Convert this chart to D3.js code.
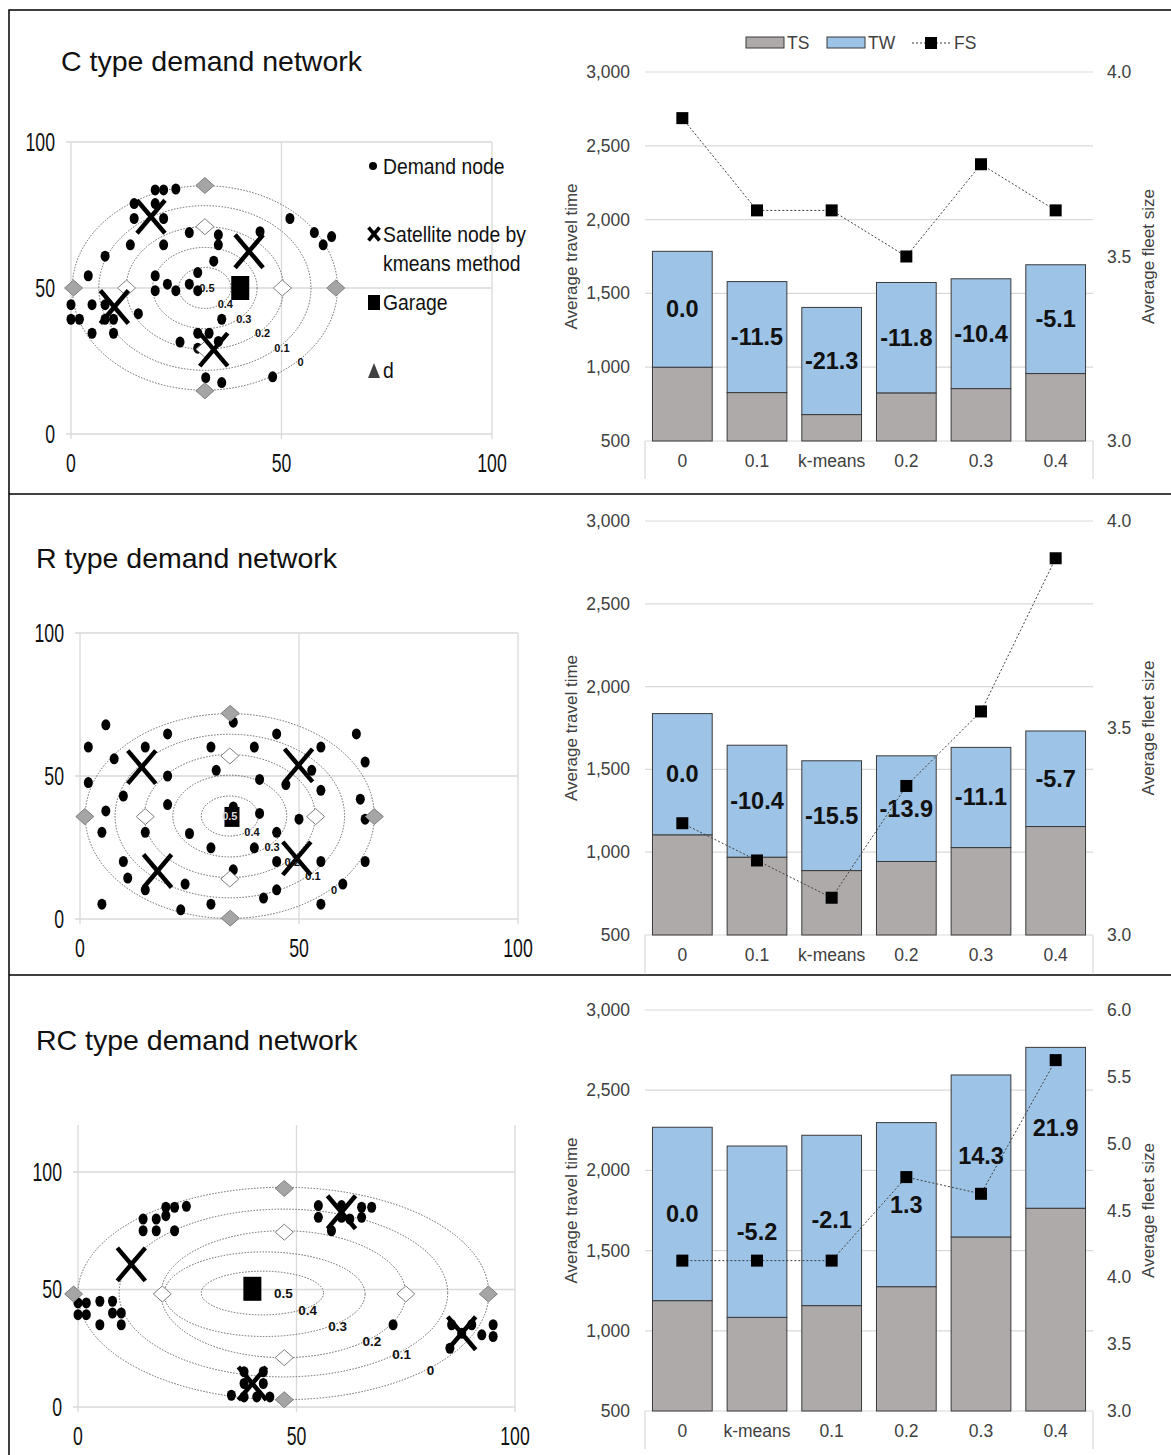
<!DOCTYPE html>
<html>
<head>
<meta charset="utf-8">
<title>Demand networks</title>
<script src="https://d3js.org/d3.v7.min.js"></script>
<style>
	body {margin:0; background:#fff;}
	text {font-family:"Liberation Sans", Arial, sans-serif;}
</style>
</head>
<body>
<div id="fig"></div>
<script>
// ---------- bar chart data ----------
var cCats = ["0","0.1","k-means","0.2","0.3","0.4"];
var cTS = [1000, 828, 679, 826, 855, 957];
var cTW = [785, 752, 726, 748, 744, 737];
var cFS = [3.875, 3.625, 3.625, 3.5, 3.75, 3.625];
var cPct = ["0.0","-11.5","-21.3","-11.8","-10.4","-5.1"];

var rCats = ["0","0.1","k-means","0.2","0.3","0.4"];
var rTS = [1105, 970, 889, 944, 1028, 1155];
var rTW = [732, 676, 663, 638, 605, 577];
var rFS = [3.27, 3.18, 3.09, 3.36, 3.54, 3.91];
var rPct = ["0.0","-10.4","-15.5","-13.9","-11.1","-5.7"];

var rcCats = ["0","k-means","0.1","0.2","0.3","0.4"];
var rcTS = [1188, 1084, 1157, 1275, 1585, 1764];
var rcTW = [1081, 1068, 1062, 1023, 1010, 1003];
var rcFS = [4.125, 4.125, 4.125, 4.75, 4.625, 5.625];
var rcPct = ["0.0","-5.2","-2.1","1.3","14.3","21.9"];

var travelTicks = [500, 1000, 1500, 2000, 2500, 3000];
var fleetTicksA = [3.0, 3.5, 4.0];
var fleetTicksB = [3.0, 3.5, 4.0, 4.5, 5.0, 5.5, 6.0];

// ---------- network data ----------
var gridTicks = [0, 50, 100];
var ringLevels = ["0","0.1","0.2","0.3","0.4"];

var cNodes = [[20,83.6],[22,83.6],[24.9,83.9],[15,78.9],[20,78.9],[15,73.8],[22,73.8],[14.1,64.8],[22,64.8],[8.1,60.9],
	[28.1,69],[35,68.2],[35,64.8],[33.9,59.2],[44.9,69.3],[52,73.8],[57.8,69],[59.9,64.8],[61.9,67.6],[4.1,54.2],
	[20,54.2],[20,49.1],[22.9,51.3],[24.9,49.1],[28.1,51.3],[30.1,55.3],[30.1,49.1],[0,44.3],[0,39.3],[2,39.3],
	[5,44.3],[8.1,44.3],[8.1,39.3],[10.1,39.3],[5,34.5],[10.1,34.5],[16,41.2],[35.8,39.3],[25.9,31.5],[30.1,34.5],
	[32.8,34.5],[30.1,29.4],[35,31.7],[32,19.3],[35.8,17.6],[47.9,19.6]];
var cSats = [[19,74.4],[42.3,62.6],[10.3,43.5],[33.9,28.9]];
var cGarage = [40.2, 50];
var cRings = [[31.8,50,31.5,35],[31.8,50,25.2,28.2],[31.8,50,18.7,21],[31.8,50,12.4,13.9],[31.8,50,6.2,7]];
var cGrey = [[0.6,50],[62.9,50],[31.8,85.1],[31.8,14.8]];
var cWhite = [[13.2,50],[50.2,50],[31.8,71],[31.8,29]];

var rNodes = [[5.9,67.9],[1.9,60.1],[1.9,47.7],[7.8,56],[14.9,60.1],[20,64.7],[20,50],[9.9,43],[5.9,37.8],[5,30.3],
	[14.9,30.3],[20,40],[9.9,20.1],[10.9,14.3],[14.9,10.2],[24,12.2],[5,5.2],[23,3.2],[29.9,5.2],[25,29.9],
	[29.9,24.9],[29.9,60.1],[31.1,52],[35,68.8],[35,39.2],[39.8,60.1],[41,48.8],[41,36.9],[39.8,24.9],[35,17.2],
	[44.9,64.7],[44.9,30.3],[44.9,20.1],[41.9,7.3],[44.9,10.2],[47,47],[50,34.9],[52.9,52],[55,60.1],[55,45],
	[55,20.1],[55,5.2],[63.1,64.7],[65.1,54.9],[64,41.9],[65.1,34.9],[65.1,20.1],[60,12.2]];
var rSats = [[14.1,53.1],[49.9,53.7],[17.7,16.8],[49.5,21.2]];
var rGarage = [34.7, 35.7];
var rRings = [[34.2,36,33,35.8],[34.2,36,26.2,28.6],[34.2,36,19.5,21.5],[34.2,36,13,14.3],[34.2,36,6.5,7]];
var rGrey = [[1.1,35.8],[67.2,35.8],[34.3,71.9],[34.3,0.3]];
var rWhite = [[14.9,35.8],[53.8,35.8],[34.2,57],[34.2,14]];

var rcNodes = [[14.9,80],[14.9,75],[17.9,80],[17.9,75],[20.1,81.4],[20.1,85],[22.1,85],[22.1,75],[24.8,85.4],
	[0,44.3],[0,39.3],[1.9,44.3],[1.9,39.3],[5,45],[5,35],[7.9,45],[7.9,40],[9.9,40],[9.9,35],
	[55,85.7],[55,80.7],[60.3,85.7],[60.3,80.7],[62.2,80],[64.9,85],[64.9,80.7],[67.2,85],[58,75],
	[38,15],[42.4,15],[38,10],[42.4,10],[35.1,5],[38,4.3],[40.9,4.3],[43.9,4.3],
	[72.1,35],[85.1,25],[85.5,35],[87.8,31.4],[90.1,35],[92.4,30.7],[95,35],[95,30]];
var rcSats = [[12.2,60.7],[60.3,82.9],[87.8,31.4],[39.9,10]];
var rcGarage = [39.9, 50.3];
var rcRings = [[47,48.3,47,45.2],[47,48.5,37.6,35.7],[47,48,28,27],[42.7,48,23,18],[42.2,48.5,14,9.3]];
var rcGrey = [[-1,48.1],[93.9,48.1],[47.2,93],[47.2,3.1]];
var rcWhite = [[19.3,48.1],[75,48.1],[47.2,74.4],[47.2,21]];

var svg = d3.select("#fig").append("svg")
	.attr("width", 1171)
	.attr("height", 1455);

// outer frame and dividers
svg.append("rect").attr("x",9).attr("y",10).attr("width",1175).attr("height",1460)
	.attr("fill","none").attr("stroke","#000").attr("stroke-width",1.5);
[494, 975].forEach(function(yy){
	svg.append("line").attr("x1",9).attr("x2",1171).attr("y1",yy).attr("y2",yy)
		.attr("stroke","#000").attr("stroke-width",1.5);
});

// narrow text (condensed look of the original)
function ntext(g, x, y, s, size, anchor, sx) {
	return g.append("text")
		.attr("transform","translate(" + x + "," + y + ") scale(" + sx + ",1)")
		.attr("text-anchor", anchor)
		.attr("dominant-baseline","central")
		.attr("font-size", size)
		.attr("fill","#111")
		.text(s);
}

function drawCross(g, cx, cy, w, h, sw) {
	g.append("line").attr("x1",cx-w/2).attr("y1",cy-h/2).attr("x2",cx+w/2).attr("y2",cy+h/2)
		.attr("stroke","#000").attr("stroke-width",sw);
	g.append("line").attr("x1",cx-w/2).attr("y1",cy+h/2).attr("x2",cx+w/2).attr("y2",cy-h/2)
		.attr("stroke","#000").attr("stroke-width",sw);
}

function drawNetwork(cfg) {
	var g = svg.append("g");
	var x = d3.scaleLinear().domain([0,100]).range(cfg.xr);
	var y = d3.scaleLinear().domain([0,100]).range(cfg.yr);

	g.append("text").attr("x",cfg.tx).attr("y",cfg.ty).attr("font-size",28.5)
		.attr("dominant-baseline","central").attr("fill","#111").text(cfg.title);

	// grid
	g.selectAll(".hg").data(gridTicks).join("line")
		.attr("x1", x(0)-5).attr("x2", x(100))
		.attr("y1", function(d){return y(d);}).attr("y2", function(d){return y(d);})
		.attr("stroke","#d9d9d9").attr("stroke-width",1.3);
	g.selectAll(".vg").data(gridTicks).join("line")
		.attr("x1", function(d){return x(d);}).attr("x2", function(d){return x(d);})
		.attr("y1", y(0)+5).attr("y2", y(cfg.yMax))
		.attr("stroke","#d9d9d9").attr("stroke-width",1.3);
	gridTicks.forEach(function(t){
		ntext(g, x(0)-16, y(t), t, 26, "end", 0.68);
		ntext(g, x(t), y(0)+29, t, 26, "middle", 0.68);
	});

	// rings
	g.selectAll(".ring").data(cfg.rings).join("ellipse")
		.attr("cx", function(d){return x(d[0]);})
		.attr("cy", function(d){return y(d[1]);})
		.attr("rx", function(d){return x(d[2]) - x(0);})
		.attr("ry", function(d){return y(0) - y(d[3]);})
		.attr("fill","none").attr("stroke","#666").attr("stroke-width",1)
		.attr("stroke-dasharray","1.5,1.5");

	// demand nodes
	g.selectAll(".node").data(cfg.nodes).join("ellipse")
		.attr("cx", function(d){return x(d[0]);})
		.attr("cy", function(d){return y(d[1]);})
		.attr("rx", 4.5).attr("ry", 5.5).attr("fill","#000");

	// d points (diamonds)
	function diamond(data, fill) {
		g.selectAll(null).data(data).join("path")
			.attr("d", function(d){
				var px = x(d[0]), py = y(d[1]);
				return "M" + (px-9) + "," + py + "L" + px + "," + (py-8) + "L" + (px+9) + "," + py + "L" + px + "," + (py+8) + "Z";
			})
			.attr("fill", fill).attr("stroke","#7f7f7f").attr("stroke-width",1);
	}
	diamond(cfg.grey, "#a5a5a5");
	diamond(cfg.white, "#fff");

	// satellites
	cfg.sats.forEach(function(s){ drawCross(g, x(s[0]), y(s[1]), 28, 33, 4.5); });

	// garage
	g.append("rect").attr("x", x(cfg.garage[0]) - cfg.gw/2).attr("y", y(cfg.garage[1]) - cfg.gh/2)
		.attr("width", cfg.gw).attr("height", cfg.gh).attr("fill","#000");

	// ring labels
	cfg.rings.forEach(function(r, i){
		g.append("text")
			.attr("x", x(r[0] + r[2]*0.707) + 2)
			.attr("y", y(r[1] - r[3]*0.707) + 2)
			.attr("text-anchor","middle").attr("dominant-baseline","central")
			.attr("font-size", cfg.lf).attr("font-weight","bold").attr("fill","#111")
			.text(ringLevels[i]);
	});
	var c0 = cfg.rings[0];
	g.append("text").attr("x", x(c0[0]) + cfg.l5dx).attr("y", y(c0[1]))
		.attr("text-anchor","middle").attr("dominant-baseline","central")
		.attr("font-size", cfg.lf).attr("font-weight","bold").attr("fill", cfg.l5fill)
		.text("0.5");
}

drawNetwork({title:"C type demand network", tx:61, ty:61, xr:[71,492], yr:[434,142], yMax:100,
	nodes:cNodes, sats:cSats, garage:cGarage, rings:cRings, grey:cGrey, white:cWhite,
	gw:18, gh:24, lf:11, l5dx:2, l5fill:"#111"});
drawNetwork({title:"R type demand network", tx:36, ty:558, xr:[80,518], yr:[919,633], yMax:100,
	nodes:rNodes, sats:rSats, garage:rGarage, rings:rRings, grey:rGrey, white:rWhite,
	gw:15, gh:20, lf:11, l5dx:0, l5fill:"#ddd"});
drawNetwork({title:"RC type demand network", tx:36, ty:1040, xr:[78,515], yr:[1407,1172], yMax:120,
	nodes:rcNodes, sats:rcSats, garage:rcGarage, rings:rcRings, grey:rcGrey, white:rcWhite,
	gw:18, gh:24, lf:13.5, l5dx:0, l5fill:"#111"});

// legend of the first network
(function(){
	var g = svg.append("g");
	g.append("circle").attr("cx",373).attr("cy",166).attr("r",4).attr("fill","#000");
	ntext(g, 383, 166, "Demand node", 21.5, "start", 0.9);
	drawCross(g, 374, 234, 11, 13, 3.5);
	ntext(g, 383, 234, "Satellite node by", 21.5, "start", 0.9);
	ntext(g, 383, 263, "kmeans method", 21.5, "start", 0.9);
	g.append("rect").attr("x",368).attr("y",295).attr("width",12).attr("height",15).attr("fill","#000");
	ntext(g, 383, 302, "Garage", 21.5, "start", 0.9);
	g.append("path").attr("d","M368,378L374,363L380,378Z").attr("fill","#404040");
	ntext(g, 383, 370, "d", 21.5, "start", 0.9);
})();

// ---------- bar + line charts ----------
var colTS = "#aeaaaa", colTW = "#9dc3e6";

function drawBars(cfg) {
	var g = svg.append("g");
	var x = d3.scaleBand().domain(cfg.cats).range([645,1093]).paddingInner(0.2).paddingOuter(0.1);
	var y = d3.scaleLinear().domain([500,3000]).range([cfg.bottom, cfg.top]);
	var yR = d3.scaleLinear().domain(cfg.fsDomain).range([cfg.bottom, cfg.top]);
	var bw = x.bandwidth();

	g.selectAll(".grid").data(travelTicks).join("line")
		.attr("x1",645).attr("x2",1093)
		.attr("y1", function(d){return y(d);}).attr("y2", function(d){return y(d);})
		.attr("stroke","#d9d9d9").attr("stroke-width",1.2);
	g.selectAll(".lt").data(travelTicks).join("text")
		.attr("x",630).attr("y", function(d){return y(d);})
		.attr("text-anchor","end").attr("dominant-baseline","central")
		.attr("font-size",17.5).attr("fill","#404040")
		.text(d3.format(","));
	g.selectAll(".rt").data(cfg.fsTicks).join("text")
		.attr("x",1107).attr("y", function(d){return yR(d);})
		.attr("dominant-baseline","central")
		.attr("font-size",17.5).attr("fill","#404040")
		.text(d3.format(".1f"));

	// category box
	[645, 1093].forEach(function(xx){
		g.append("line").attr("x1",xx).attr("x2",xx).attr("y1",cfg.bottom).attr("y2",cfg.bottom+38)
			.attr("stroke","#d9d9d9").attr("stroke-width",1.2);
	});
	g.selectAll(".cat").data(cfg.cats).join("text")
		.attr("x", function(d){return x(d) + bw/2;}).attr("y", cfg.bottom + 20)
		.attr("text-anchor","middle").attr("dominant-baseline","central")
		.attr("font-size",17.5).attr("fill","#404040")
		.text(function(d){return d;});

	// stacked bars
	var rows = cfg.cats.map(function(c, i){ return {cat:c, TS:cfg.ts[i], TW:cfg.tw[i]}; });
	var series = d3.stack().keys(["TS","TW"])(rows);
	g.selectAll(".ser").data(series).join("g")
		.attr("fill", function(d){ return d.key == "TS" ? colTS : colTW; })
		.selectAll("rect").data(function(d){return d;}).join("rect")
		.attr("x", function(d){return x(d.data.cat);})
		.attr("width", bw)
		.attr("y", function(d){return y(d[1]);})
		.attr("height", function(d){return y(Math.max(500, d[0])) - y(d[1]);})
		.attr("stroke","#3a3a3a").attr("stroke-width",1);

	// percentage labels in the TW part
	g.selectAll(".pct").data(series[1]).join("text")
		.attr("x", function(d){return x(d.data.cat) + bw/2;})
		.attr("y", function(d){return y((d[0] + d[1]) / 2);})
		.attr("text-anchor","middle").attr("dominant-baseline","central")
		.attr("font-size",23.5).attr("font-weight","bold").attr("fill","#111")
		.text(function(d, i){return cfg.pct[i];});

	// fleet size line
	var line = d3.line()
		.x(function(d, i){return x(cfg.cats[i]) + bw/2;})
		.y(function(d){return yR(d);});
	g.append("path").datum(cfg.fs).attr("d", line)
		.attr("fill","none").attr("stroke","#404040").attr("stroke-width",1)
		.attr("stroke-dasharray","2,2");
	g.selectAll(".fs").data(cfg.fs).join("rect")
		.attr("x", function(d, i){return x(cfg.cats[i]) + bw/2 - 6;})
		.attr("y", function(d){return yR(d) - 6;})
		.attr("width",12).attr("height",12).attr("fill","#000");

	// axis titles
	var mid = (cfg.top + cfg.bottom) / 2;
	g.append("text").attr("transform","translate(571," + mid + ") rotate(-90)")
		.attr("text-anchor","middle").attr("dominant-baseline","central")
		.attr("font-size",17).attr("fill","#404040").text("Average travel time");
	g.append("text").attr("transform","translate(1148," + mid + ") rotate(-90)")
		.attr("text-anchor","middle").attr("dominant-baseline","central")
		.attr("font-size",17).attr("fill","#404040").text("Average fleet size");
}

drawBars({cats:cCats, ts:cTS, tw:cTW, fs:cFS, pct:cPct, top:72, bottom:441, fsDomain:[3,4], fsTicks:fleetTicksA});
drawBars({cats:rCats, ts:rTS, tw:rTW, fs:rFS, pct:rPct, top:521, bottom:935, fsDomain:[3,4], fsTicks:fleetTicksA});
drawBars({cats:rcCats, ts:rcTS, tw:rcTW, fs:rcFS, pct:rcPct, top:1010, bottom:1411, fsDomain:[3,6], fsTicks:fleetTicksB});

// legend of the bar charts
(function(){
	var g = svg.append("g");
	g.append("rect").attr("x",746).attr("y",37).attr("width",38).attr("height",11)
		.attr("fill",colTS).attr("stroke","#3a3a3a");
	g.append("text").attr("x",787).attr("y",43).attr("dominant-baseline","central")
		.attr("font-size",17.5).attr("fill","#404040").text("TS");
	g.append("rect").attr("x",827).attr("y",37).attr("width",38).attr("height",11)
		.attr("fill",colTW).attr("stroke","#3a3a3a");
	g.append("text").attr("x",868).attr("y",43).attr("dominant-baseline","central")
		.attr("font-size",17.5).attr("fill","#404040").text("TW");
	g.append("line").attr("x1",912).attr("x2",950).attr("y1",43).attr("y2",43)
		.attr("stroke","#404040").attr("stroke-dasharray","2,2");
	g.append("rect").attr("x",925).attr("y",37).attr("width",12).attr("height",12).attr("fill","#000");
	g.append("text").attr("x",954).attr("y",43).attr("dominant-baseline","central")
		.attr("font-size",17.5).attr("fill","#404040").text("FS");
})();
</script>
</body>
</html>
